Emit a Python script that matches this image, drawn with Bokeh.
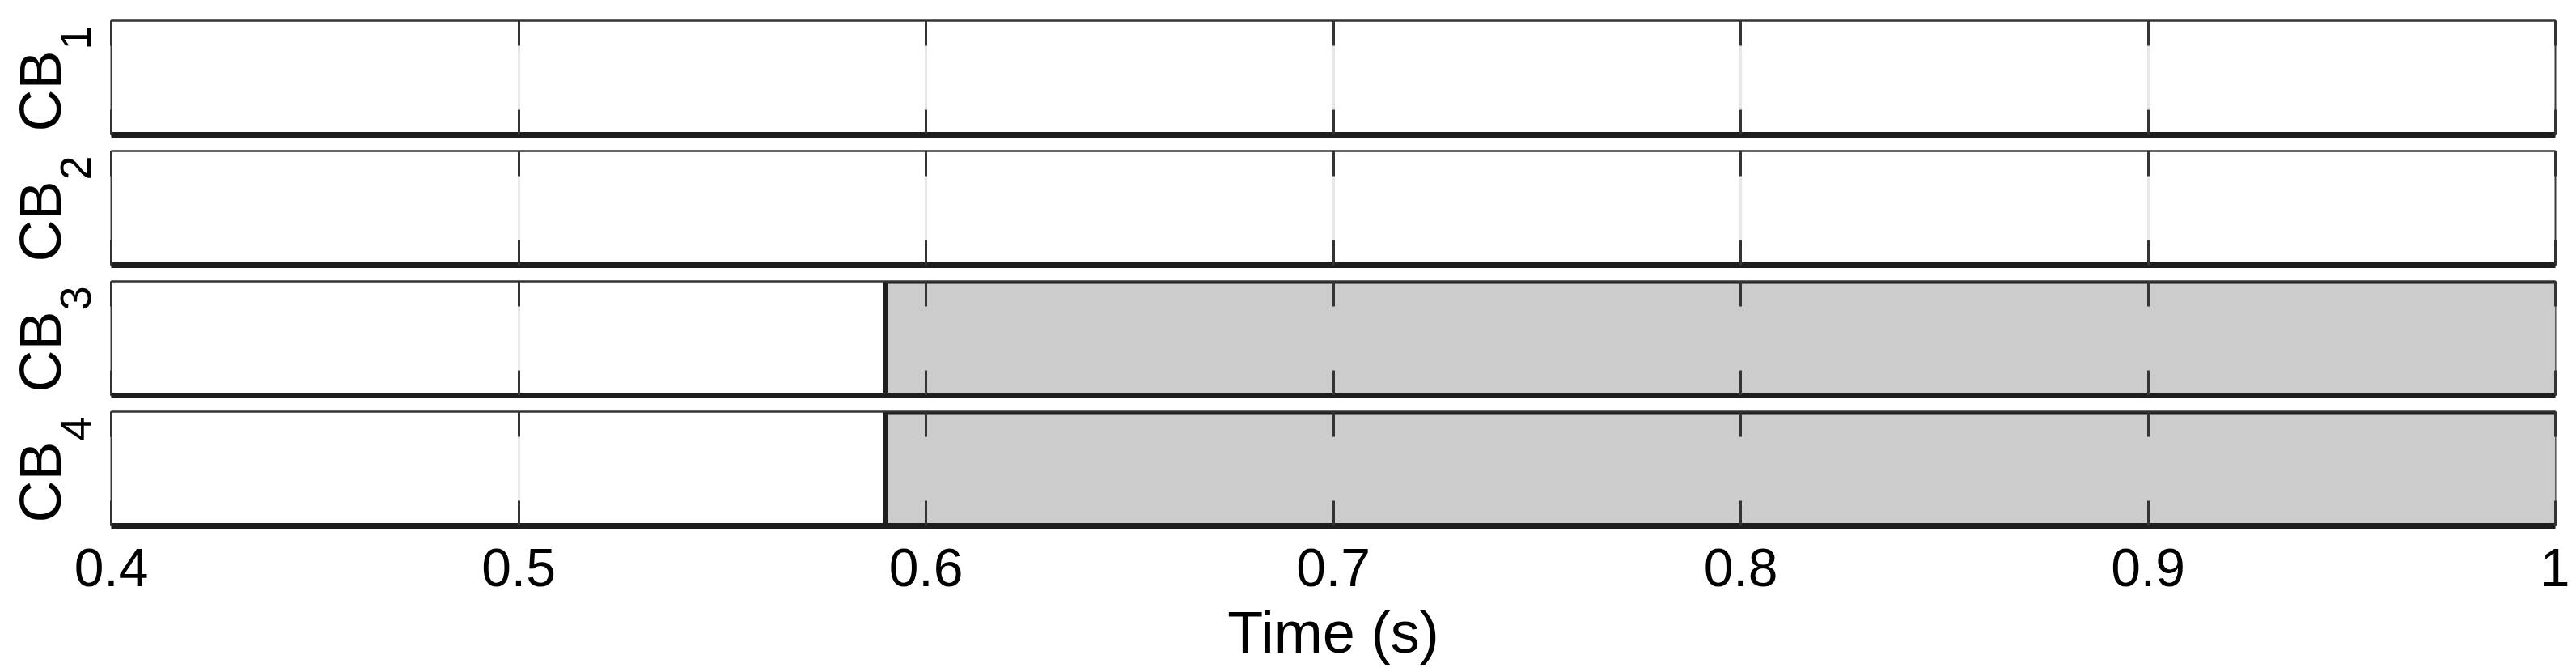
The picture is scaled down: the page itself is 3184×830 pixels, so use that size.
from bokeh.plotting import figure
from bokeh.models import LinearAxis, FixedTicker, Range1d, Label, Grid
from bokeh.layouts import column, row
from bokeh.embed import file_html
from bokeh.resources import INLINE
from math import pi

# ---- data ----
time = [0.4, 0.59, 0.59, 1.0]
cb1 = [0, 0, 0, 0]
cb2 = [0, 0, 0, 0]
cb3 = [0, 0, 1, 1]
cb4 = [0, 0, 1, 1]
series = [cb1, cb2, cb3, cb4]
label_main = ["CB", "CB", "CB", "CB"]
label_sub = ["1", "2", "3", "4"]
tick_values = [0.4, 0.5, 0.6, 0.7, 0.8, 0.9, 1.0]
tick_labels = ["0.4", "0.5", "0.6", "0.7", "0.8", "0.9", "1"]
x_label = "Time (s)"

FONT = "Liberation Sans"
DARK = "#333333"
LINE = "#1e1e1e"
X0, X1 = 0.4, 1.0
FW, FH = 3021, 141
LEFT_W = 133   # width of the label strip left of each panel
GAP = 4        # border between label strip and panel frame


def hide_grids(p):
    for g in list(p.xgrid) + list(p.ygrid):
        g.visible = False


def inner_tick_axis(line_width, line_color):
    # minor-only ticker: tick marks pointing into the frame, no labels
    return LinearAxis(ticker=FixedTicker(ticks=[], minor_ticks=tick_values),
                      major_tick_in=0, major_tick_out=0,
                      minor_tick_in=31, minor_tick_out=0, minor_tick_line_color=DARK,
                      minor_tick_line_width=3, axis_line_color=line_color,
                      axis_line_width=line_width, major_label_standoff=0)


x_range = Range1d(X0, X1)
rows = []
n = len(series)
for i, ys in enumerate(series):
    top_b = 25 if i == 0 else 10
    bot_b = 4 if i == n - 1 else 10

    # label strip
    lab = figure(frame_width=LEFT_W, frame_height=FH, x_range=Range1d(0, LEFT_W), y_range=Range1d(0, FH),
                 x_axis_location=None, y_axis_location=None, toolbar_location=None,
                 output_backend="svg", min_border_left=0, min_border_right=0,
                 min_border_top=top_b, min_border_bottom=bot_b,
                 background_fill_color="white", border_fill_color="white", outline_line_color=None)
    hide_grids(lab)
    lab.add_layout(Label(x=49, y=54, text=label_main[i], angle=pi / 2,
                         text_align="center", text_baseline="middle",
                         text_font=FONT, text_font_size="72px", text_color="black"))
    lab.add_layout(Label(x=93, y=120, text=label_sub[i], angle=pi / 2,
                         text_align="center", text_baseline="middle",
                         text_font=FONT, text_font_size="54px", text_color="black"))

    # panel
    p = figure(frame_width=FW, frame_height=FH, x_range=x_range, y_range=Range1d(0, 1),
               x_axis_location=None, y_axis_location=None,
               toolbar_location=None, output_backend="svg",
               min_border_left=GAP, min_border_right=18,
               min_border_top=top_b, min_border_bottom=bot_b,
               background_fill_color="white", border_fill_color="white",
               outline_line_color="#3a3a3a", outline_line_width=2)
    hide_grids(p)
    p.add_layout(Grid(dimension=0, ticker=FixedTicker(ticks=tick_values),
                      grid_line_color="#e8e8e8", grid_line_width=3))
    p.add_layout(inner_tick_axis(2, DARK), "above")
    p.add_layout(inner_tick_axis(7, LINE), "below")

    p.varea(x=time, y1=0, y2=ys, fill_color="#cccccc")
    p.line(time, ys, line_color=LINE, line_width=6)

    rows.append(row(lab, p))

# shared time axis with tick labels and title
ax = figure(frame_width=FW, frame_height=1, x_range=x_range, y_range=Range1d(0, 1),
            x_axis_location=None, y_axis_location=None, toolbar_location=None,
            output_backend="svg", min_border_left=LEFT_W + GAP, min_border_right=18,
            min_border_top=0, background_fill_color="white", border_fill_color="white",
            outline_line_color=None)
hide_grids(ax)
xaxis = LinearAxis(ticker=FixedTicker(ticks=tick_values), major_tick_in=0, major_tick_out=0,
                   minor_tick_in=0, minor_tick_out=0, axis_line_color=None,
                   major_label_overrides={v: t for v, t in zip(tick_values, tick_labels)},
                   major_label_text_font=FONT, major_label_text_font_size="66px",
                   major_label_text_color="black", major_label_standoff=23,
                   axis_label=x_label, axis_label_text_font=FONT, axis_label_text_font_size="72px",
                   axis_label_text_font_style="normal", axis_label_text_color="black",
                   axis_label_standoff=14)
ax.add_layout(xaxis, "below")
rows.append(ax)

layout = column(*rows)
open("out.html", "w").write(file_html(layout, INLINE))
